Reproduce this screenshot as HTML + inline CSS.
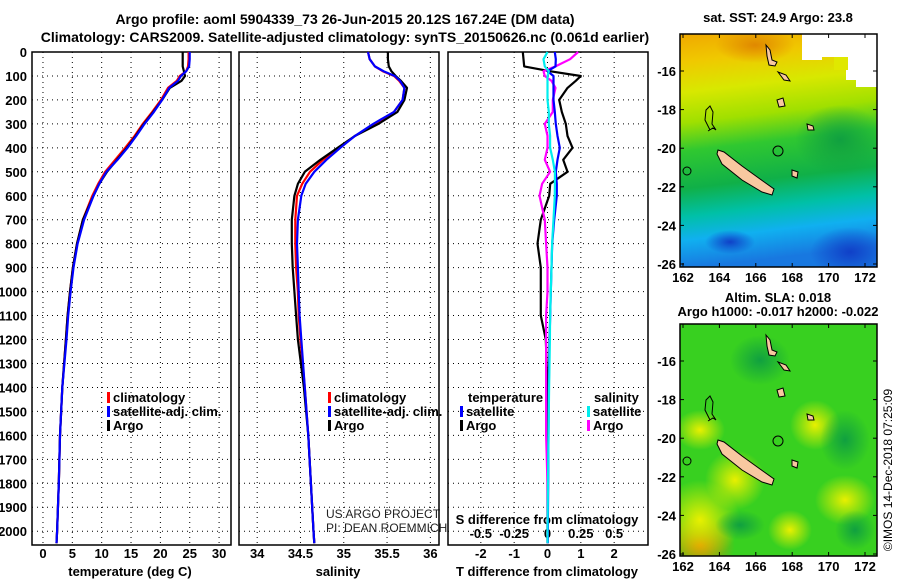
<!DOCTYPE html>
<html><head><meta charset="utf-8"><style>
body{margin:0;background:#fff;}
svg{display:block;font-family:"Liberation Sans",sans-serif;}
.b{font-weight:bold;font-size:13px;}
.t{font-weight:bold;font-size:14px;}
</style></head><body>
<svg id="c" width="900" height="580" viewBox="0 0 900 580" xmlns="http://www.w3.org/2000/svg">
<defs>
<linearGradient id="sst" x1="0" y1="0" x2="0.1" y2="1">
<stop offset="0" stop-color="#f0a800"/><stop offset="0.12" stop-color="#f0c800"/><stop offset="0.25" stop-color="#d8e800"/><stop offset="0.38" stop-color="#a0e000"/><stop offset="0.5" stop-color="#30c830"/><stop offset="0.66" stop-color="#10b048"/><stop offset="0.78" stop-color="#00c0a8"/><stop offset="0.88" stop-color="#10b0f0"/><stop offset="1" stop-color="#1878e0"/>
</linearGradient>
<radialGradient id="yb"><stop offset="0" stop-color="#e8f000"/><stop offset="1" stop-color="#e8f000" stop-opacity="0"/></radialGradient>
<radialGradient id="or"><stop offset="0" stop-color="#e08800"/><stop offset="1" stop-color="#e08800" stop-opacity="0"/></radialGradient>
<radialGradient id="bl"><stop offset="0" stop-color="#1040c8"/><stop offset="1" stop-color="#1040c8" stop-opacity="0"/></radialGradient>
<radialGradient id="dg"><stop offset="0" stop-color="#10a040"/><stop offset="1" stop-color="#10a040" stop-opacity="0"/></radialGradient>
<clipPath id="m1"><rect x="680" y="34" width="197" height="233"/></clipPath>
<clipPath id="m2"><rect x="680" y="324" width="197" height="232"/></clipPath>
</defs>
<text class="t" x="345" y="24" text-anchor="middle">Argo profile: aoml 5904339_73 26-Jun-2015 20.12S 167.24E (DM data)</text>
<text class="t" x="345" y="42" text-anchor="middle">Climatology: CARS2009. Satellite-adjusted climatology: synTS_20150626.nc (0.061d earlier)</text>

<g id="maps">
<g clip-path="url(#m1)">
<rect x="680" y="34" width="197" height="233" fill="url(#sst)"/>
<ellipse cx="755" cy="45" rx="40" ry="18" fill="url(#or)"/>
<ellipse cx="850" cy="252" rx="40" ry="25" fill="url(#bl)"/>
<ellipse cx="730" cy="242" rx="25" ry="12" fill="url(#bl)"/>
<ellipse cx="840" cy="140" rx="45" ry="35" fill="url(#dg)"/>
<polygon points="802,34 877,34 877,87 856,87 856,80 846,80 846,60 835,60 835,57 822,57 822,60 802,60" fill="#fff"/>
<polygon points="834,57 848,57 848,70 834,70" fill="#e0e800"/>
</g>
<g clip-path="url(#m2)">
<rect x="680" y="324" width="197" height="232" fill="#38d020"/>
<ellipse cx="700" cy="545" rx="35" ry="30" fill="url(#or)"/>
<ellipse cx="700" cy="520" rx="40" ry="40" fill="url(#yb)"/>
<ellipse cx="735" cy="480" rx="30" ry="30" fill="url(#yb)"/>
<ellipse cx="815" cy="425" rx="25" ry="25" fill="url(#yb)"/>
<ellipse cx="845" cy="500" rx="30" ry="25" fill="url(#yb)"/>
<ellipse cx="790" cy="530" rx="22" ry="20" fill="url(#yb)"/>
<ellipse cx="700" cy="430" rx="25" ry="20" fill="url(#yb)"/>
<ellipse cx="760" cy="360" rx="30" ry="25" fill="url(#dg)"/>
<ellipse cx="845" cy="440" rx="25" ry="30" fill="url(#dg)"/>
<ellipse cx="855" cy="530" rx="20" ry="20" fill="url(#dg)"/>
<ellipse cx="740" cy="525" rx="25" ry="15" fill="url(#dg)"/>
</g>
</g>
<text class="b" x="778" y="22" text-anchor="middle">sat. SST: 24.9 Argo: 23.8</text>
<text class="b" x="778" y="302" text-anchor="middle">Altim. SLA: 0.018</text>
<text class="b" x="778" y="316" text-anchor="middle">Argo h1000: -0.017 h2000: -0.022</text>
<text x="892" y="470" font-size="12" text-anchor="middle" transform="rotate(-90 892 470)">©IMOS 14-Dec-2018 07:25:09</text>
<text x="326" y="518" font-size="12" fill="#222">US ARGO PROJECT</text>
<text x="326" y="532" font-size="12" fill="#222">PI: DEAN ROEMMICH</text>
</svg>
<script>
// ---- data ----
const depth = [0,30,60,80,100,120,150,200,250,300,350,400,450,500,550,600,700,800,900,1000,1100,1200,1400,1600,1800,2000,2050];
const tempArgo = [23.8,23.8,23.8,24.0,24.2,23.6,21.6,20.3,18.8,17.2,15.8,14.3,12.6,10.9,9.6,8.6,6.8,5.8,5.1,4.6,4.2,3.9,3.3,2.9,2.7,2.4,2.3];
const tempClim = [24.8,24.8,24.7,24.4,23.3,22.8,21.3,20.1,18.6,17.0,15.6,14.0,12.3,10.6,9.4,8.4,6.8,5.8,5.1,4.6,4.2,3.9,3.3,2.9,2.7,2.4,2.3];
const tempSat = [25.0,25.0,24.9,24.4,23.5,23.0,21.5,20.3,18.9,17.3,15.9,14.4,12.7,10.8,9.6,8.6,7.0,5.9,5.2,4.7,4.3,4.0,3.3,2.9,2.7,2.4,2.3];
const salArgo = [35.51,35.51,35.52,35.55,35.60,35.66,35.73,35.70,35.62,35.40,35.13,34.93,34.73,34.55,34.47,34.43,34.40,34.40,34.41,34.43,34.45,34.47,34.54,34.59,34.62,34.65,34.66];
const salClim = [35.28,35.30,35.36,35.45,35.58,35.64,35.70,35.68,35.58,35.36,35.13,34.95,34.76,34.61,34.52,34.46,34.44,34.44,34.45,34.47,34.48,34.50,34.55,34.59,34.62,34.65,34.66];
const salSat = [35.28,35.30,35.36,35.46,35.59,35.65,35.70,35.68,35.58,35.34,35.13,34.96,34.80,34.66,34.56,34.51,34.47,34.46,34.47,34.48,34.49,34.51,34.55,34.59,34.62,34.65,34.66];
const dTArgo = [-0.74,-0.72,-0.70,0.07,1.0,0.85,0.6,0.35,0.43,0.55,0.6,0.75,0.47,0.6,0.08,0.05,-0.2,-0.3,-0.2,-0.2,-0.2,-0.05,0.0,0.0,0.0,0.0,0.0];
const dTSat = [0.22,0.25,0.24,0.0,0.18,0.18,0.18,0.18,0.22,0.25,0.3,0.37,0.3,0.25,0.28,0.28,0.2,0.14,0.12,0.1,0.08,0.06,0.04,0.03,0.02,0.01,0.01];
const dSArgo = [0.23,0.17,0.06,-0.03,-0.02,0.03,0.06,0.04,0.04,-0.02,0.0,0.0,-0.02,0.02,-0.04,-0.06,-0.02,-0.01,0.0,0.0,-0.01,-0.01,-0.01,-0.01,0.0,0.0,0.0];
const dSSat = [0.0,-0.03,-0.02,0.01,0.0,0.0,0.0,0.0,0.01,0.01,0.02,0.02,0.04,0.056,0.056,0.055,0.045,0.035,0.03,0.025,0.02,0.018,0.012,0.008,0.004,0.0,0.0];
const depthTicks = [0,100,200,300,400,500,600,700,800,900,1000,1100,1200,1300,1400,1500,1600,1700,1800,1900,2000];
const tempTicks = [0,5,10,15,20,25,30];
const salTicks = [34,34.5,35,35.5,36];
const salTickLabels = ["34","34.5","35","35.5","36"];
const dTTicks = [-2,-1,0,1,2];
const dSTicks = [-0.5,-0.25,0,0.25,0.5];
const dSTickLabels = ["-0.5","-0.25","0","0.25","0.5"];
const lonTicks = [162,164,166,168,170,172];
const latTicks = [-16,-18,-20,-22,-24,-26];

const svg = document.getElementById('c');
const NS = 'http://www.w3.org/2000/svg';
function mk(tag, at, parent){const e=document.createElementNS(NS,tag);for(const k in at)e.setAttribute(k,at[k]);(parent||svg).appendChild(e);return e;}
const TOP=52, BOT=545;
const yD = d => TOP + d*0.2396;
const panels = [
 {x0:32,x1:231,lo:-1.87,hi:32.03,name:'temperature-panel'},
 {x0:239,x1:439,lo:33.79,hi:36.1,name:'salinity-panel'},
 {x0:448,x1:648,lo:-2.985,hi:3.015,name:'difference-panel'}];
function sx(p,v){return p.x0+(v-p.lo)/(p.hi-p.lo)*(p.x1-p.x0);}
const pS = {x0:448,x1:648,lo:-0.746,hi:0.754};

panels.forEach((p,i)=>{
 const g=mk('g',{});
 
 
 depthTicks.forEach(d=>{ if(d>0){const l=mk('line',{x1:p.x0,x2:p.x1,y1:yD(d),y2:yD(d),stroke:'#000','stroke-dasharray':'1 4','stroke-width':1},g);
   
   }});
 const ticks = i==0?tempTicks:i==1?salTicks:dTTicks;
 ticks.forEach(t=>{const x=sx(p,t);const l=mk('line',{x1:x,x2:x,y1:TOP,y2:BOT,stroke:'#000','stroke-dasharray':'1 4','stroke-width':1},g);
   
   });
 const r=mk('rect',{x:p.x0,y:TOP,width:p.x1-p.x0,height:BOT-TOP,fill:'none',stroke:'#000','stroke-width':1.5},g);
 
 
});
depthTicks.forEach(d=>{const t=mk('text',{x:27,y:yD(d)+5,'text-anchor':'end',class:'b'});t.textContent=d;
 
 });
function xl(p,vals,labels,y,name){vals.forEach((v,i)=>{const t=mk('text',{x:sx(p,v),y:y,'text-anchor':'middle',class:'b'});t.textContent=labels[i];
 
 });}
xl(panels[0],tempTicks,tempTicks.map(String),558,'temperature-tick-label');
xl(panels[1],salTicks,salTickLabels,558,'salinity-tick-label');
xl(panels[2],dTTicks,dTTicks.map(String),558,'t-diff-tick-label');
xl(pS,dSTicks,dSTickLabels,538,'s-diff-tick-label');
function lab(x,y,s,name,anchor){const t=mk('text',{x:x,y:y,'text-anchor':anchor||'middle',class:'b'});t.textContent=s;
 
 }
lab(130,576,'temperature (deg C)','x-axis-title-temperature');
lab(338,576,'salinity','x-axis-title-salinity');
lab(547,576,'T difference from climatology','x-axis-title-t-diff');
lab(547,524,'S difference from climatology','x-axis-title-s-diff');

function line(p,vals,color,name){const pts=depth.map((d,i)=>sx(p,vals[i]).toFixed(1)+','+yD(d).toFixed(1)).join(' ');
 const l=mk('polyline',{points:pts,fill:'none',stroke:color,'stroke-width':2.2,'stroke-linejoin':'round'});
 
 }
line(panels[0],tempClim,'#f00','temp-climatology-line');
line(panels[0],tempArgo,'#000','temp-argo-line');
line(panels[0],tempSat,'#00f','temp-satellite-line');
line(panels[1],salClim,'#f00','sal-climatology-line');
line(panels[1],salArgo,'#000','sal-argo-line');
line(panels[1],salSat,'#00f','sal-satellite-line');
line(panels[2],dTArgo,'#000','t-diff-argo-line');
line(pS,dSArgo,'#f0f','s-diff-argo-line');
line(panels[2],dTSat,'#00f','t-diff-satellite-line');
line(pS,dSSat,'#0ee','s-diff-satellite-line');

function leg(x,y,color,s,name){const r=mk('rect',{x:x,y:y-10,width:3,height:11,fill:color});
 
 
 const t=mk('text',{x:x+6,y:y,class:'b'});t.textContent=s;
 
 }
leg(107,402,'#f00','climatology','legend-climatology');
leg(107,416,'#00f','satellite-adj. clim.','legend-satellite-adj');
leg(107,430,'#000','Argo','legend-argo');
leg(328,402,'#f00','climatology','legend-sal-climatology');
leg(328,416,'#00f','satellite-adj. clim.','legend-sal-satellite-adj');
leg(328,430,'#000','Argo','legend-sal-argo');
lab(468,402,'temperature','legend-temperature-header','start');
leg(460,416,'#00f','satellite','legend-t-satellite');
leg(460,430,'#000','Argo','legend-t-argo');
lab(594,402,'salinity','legend-salinity-header','start');
leg(587,416,'#0ee','satellite','legend-s-satellite');
leg(587,430,'#f0f','Argo','legend-s-argo');

const mapsY=[{y0:34,y1:267,lat0:71,name:'sst'},{y0:324,y1:556,lat0:361,name:'sla'}];
const lonX = lon => 683 + (lon-162)*18.2;
mapsY.forEach(m=>{
 const off=m.y0-34;
 const g=mk('g',{transform:'translate(0,'+off+')'});
 
 
 mk('polygon',{points:'718,150 724,152 742,166 760,179 774,189 772,195 762,192 742,180 722,164 717,154',fill:'#f8c8a0',stroke:'#000','stroke-width':1},g);
 mk('polygon',{points:'766,45 770,50 772,60 777,62 775,66 769,65 767,56',fill:'#f8c8a0',stroke:'#000','stroke-width':1},g);
 mk('polygon',{points:'778,72 786,75 790,81 784,80',fill:'#f8c8a0',stroke:'#000','stroke-width':1},g);
 mk('polygon',{points:'777,100 783,98 785,106 779,107',fill:'#f8c8a0',stroke:'#000','stroke-width':1},g);
 mk('polygon',{points:'807,124 813,126 814,130 808,130',fill:'#f8c8a0',stroke:'#000','stroke-width':1},g);
 mk('polygon',{points:'792,170 798,172 797,178 792,176',fill:'#f8c8a0',stroke:'#000','stroke-width':1},g);
 mk('polyline',{points:'710,130 705,120 706,110 710,106 713,112 712,124 716,130 713,128 708,131',fill:'none',stroke:'#000','stroke-width':1},g);
 mk('circle',{cx:778,cy:151,r:5,fill:'none',stroke:'#000','stroke-width':1},g);
 mk('circle',{cx:687,cy:171,r:4,fill:'none',stroke:'#000','stroke-width':1},g);
 const r=mk('rect',{x:680,y:m.y0,width:197,height:m.y1-m.y0,fill:'none',stroke:'#000','stroke-width':1.5});
 
 
 lonTicks.forEach(lo=>{const t=mk('text',{x:lonX(lo),y:m.y1+15,'text-anchor':'middle',class:'b'});t.textContent=lo;
  
  
  mk('line',{x1:lonX(lo),x2:lonX(lo),y1:m.y1,y2:m.y1-4,stroke:'#000'});
  mk('line',{x1:lonX(lo),x2:lonX(lo),y1:m.y0,y2:m.y0+4,stroke:'#000'});});
 latTicks.forEach((la,i)=>{const y=m.lat0+i*38.6;const t=mk('text',{x:676,y:y+5,'text-anchor':'end',class:'b'});t.textContent=la;
  
  
  mk('line',{x1:680,x2:684,y1:y,y2:y,stroke:'#000'});
  mk('line',{x1:877,x2:873,y1:y,y2:y,stroke:'#000'});});
});
</script>
</body></html>
